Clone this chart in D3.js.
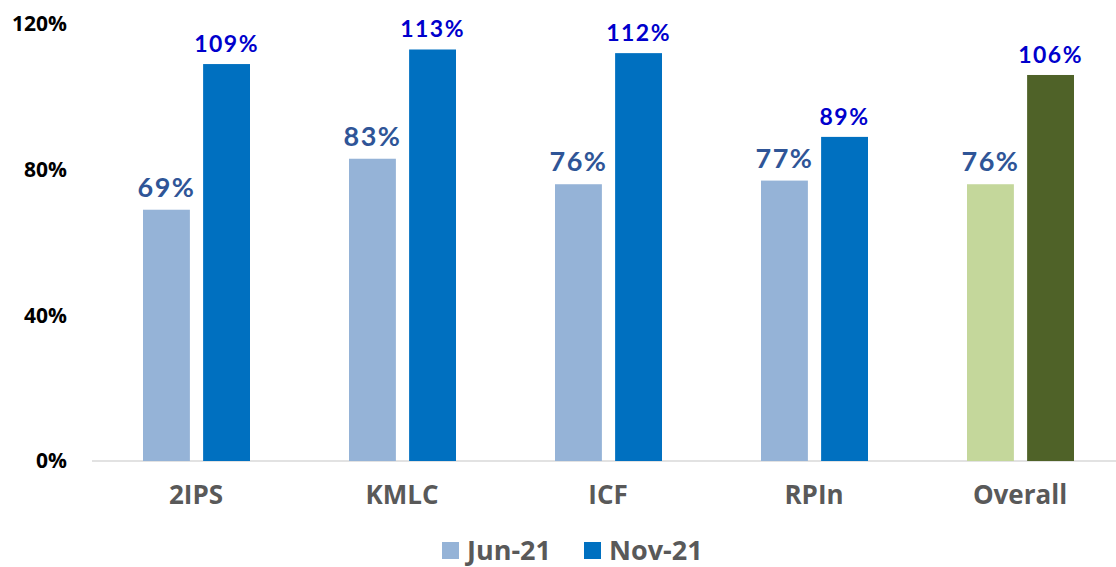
<!DOCTYPE html>
<html lang="en">
<head>
	<meta charset="UTF-8">
	<title>Jun-21 vs Nov-21</title>
	<style>
		body { margin: 0; background: #fff; }
		.y-axis text {
			font-family: "Open Sans", sans-serif;
			font-weight: bold;
			font-size: 21px;
			fill: #000;
		}
		.x-axis text {
			font-family: "Open Sans", sans-serif;
			font-weight: bold;
			font-size: 26px;
			fill: #595959;
		}
		.bar-label {
			font-family: Lato, sans-serif;
			font-weight: bold;
			letter-spacing: 1.5px;
		}
		.legend text {
			font-family: "Open Sans", sans-serif;
			font-weight: bold;
			font-size: 27px;
			fill: #595959;
		}
	</style>
	<script src="https://d3js.org/d3.v7.min.js"></script>
</head>
<body>
	<script type="text/javascript">

		// data
		var categories = ["2IPS", "KMLC", "ICF", "RPIn", "Overall"];
		var seriesNames = ["Jun-21", "Nov-21"];
		var jun21 = [69, 83, 76, 77, 76];
		var nov21 = [109, 113, 112, 89, 106];
		var yTicks = [0, 40, 80, 120];

		const w = 1116,
			  h = 567;

		const svg = d3.select("body")
					.append("svg")
					.attr("width", w)
					.attr("height", h);

		var xScale = d3.scaleBand()
					   .domain(categories)
					   .range([93, 1123])
					   .paddingInner(0)
					   .paddingOuter(0);

		var yScale = d3.scaleLinear()
					   .domain([0, 120])
					   .range([461, 24]);

		var inner = d3.scaleBand()
					  .domain(seriesNames)
					  .range([-53, 54])
					  .paddingInner(0.22);

		// normal colours, the last group is green
		function barColor(series, cat) {
			if (cat === "Overall") return series === "Jun-21" ? "#C4D79B" : "#4F6228";
			return series === "Jun-21" ? "#95B3D7" : "#0070C0";
		}

		var rows = categories.map((c, i) => ({cat: c, vals: [jun21[i], nov21[i]]}));

		// baseline
		svg.append("line")
		   .attr("x1", 92).attr("x2", w)
		   .attr("y1", yScale(0)).attr("y2", yScale(0))
		   .attr("stroke", "#D9D9D9")
		   .attr("stroke-width", 1.5);

		var groups = svg.append("g").selectAll("g")
		   .data(rows).enter()
		   .append("g")
		   .attr("transform", (d) => "translate(" + (xScale(d.cat) + xScale.bandwidth() / 2) + ",0)");

		groups.selectAll("rect")
		   .data((d) => d.vals.map((v, j) => ({cat: d.cat, s: seriesNames[j], v: v})))
		   .enter()
		   .append("rect")
		   .attr("x", (d) => inner(d.s))
		   .attr("width", inner.bandwidth())
		   .attr("y", (d) => yScale(d.v))
		   .attr("height", (d) => yScale(0) - yScale(d.v))
		   .attr("fill", (d) => barColor(d.s, d.cat));

		groups.selectAll("text")
		   .data((d) => d.vals.map((v, j) => ({cat: d.cat, s: seriesNames[j], v: v})))
		   .enter()
		   .append("text")
		   .attr("class", "bar-label")
		   .attr("x", (d) => inner(d.s) + inner.bandwidth() / 2)
		   .attr("y", (d) => yScale(d.v) - (d.s === "Jun-21" ? 13 : 12))
		   .attr("text-anchor", "middle")
		   .style("font-size", (d) => d.s === "Jun-21" ? "27px" : "23px")
		   .attr("fill", (d) => d.s === "Jun-21" ? "#2F5597" : "#0000CC")
		   .text((d) => d.v + "%");

		// y axis, labels only
		var yAxis = d3.axisLeft(yScale)
					  .tickValues(yTicks)
					  .tickSize(0)
					  .tickPadding(0)
					  .tickFormat((d) => d + "%");
		svg.append("g")
		   .attr("class", "y-axis")
		   .attr("transform", "translate(67,0)")
		   .call(yAxis)
		   .call((g) => g.select(".domain").remove());

		// x axis
		var xAxis = d3.axisBottom(xScale)
					  .tickSize(0)
					  .tickPadding(0);
		svg.append("g")
		   .attr("class", "x-axis")
		   .attr("transform", "translate(0,486)")
		   .call(xAxis)
		   .call((g) => g.select(".domain").remove());

		// legend
		var legend = svg.append("g").attr("class", "legend");
		var legendX = [442, 584];
		seriesNames.forEach(function(s, i) {
			legend.append("rect")
				  .attr("x", legendX[i]).attr("y", 542)
				  .attr("width", 17).attr("height", 17)
				  .attr("fill", i === 0 ? "#95B3D7" : "#0070C0");
			legend.append("text")
				  .attr("x", legendX[i] + 25).attr("y", 560)
				  .text(s);
		});

	</script>
</body>
</html>
